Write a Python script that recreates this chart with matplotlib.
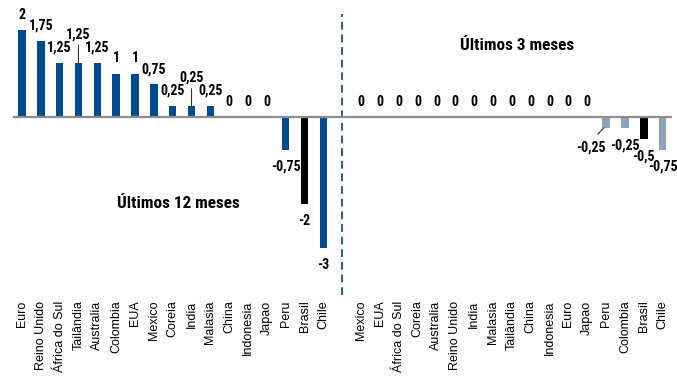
import matplotlib
matplotlib.use("Agg")
import matplotlib.pyplot as plt

# Movimento acumulado dos juros (p.p.) por pais
names_12m = ["Euro", "Reino Unido", "África do Sul", "Tailândia", "Australia", "Colombia",
             "EUA", "Mexico", "Coreia", "India", "Malasia", "China", "Indonesia", "Japao",
             "Peru", "Brasil", "Chile"]
vals_12m = [2, 1.75, 1.25, 1.25, 1.25, 1, 1, 0.75, 0.25, 0.25, 0.25, 0, 0, 0, -0.75, -2, -3]

names_3m = ["Mexico", "EUA", "África do Sul", "Coreia", "Australia", "Reino Unido", "India",
            "Malasia", "Tailândia", "China", "Indonesia", "Euro", "Japao", "Peru", "Colombia",
            "Brasil", "Chile"]
vals_3m = [0, 0, 0, 0, 0, 0, 0, 0, 0, 0, 0, 0, 0, -0.25, -0.25, -0.5, -0.75]

BLUE = "#004a8d"
LIGHT = "#8ba3bd"
BLACK = "#000000"

label_font = ["Roboto Condensed", "Liberation Sans", "DejaVu Sans"]


def fmt(v):
    return f"{v:g}".replace(".", ",")


def main():
    fig = plt.figure(figsize=(6.77, 3.88), dpi=100)
    ax = fig.add_axes([12.5 / 677, 1 - 295 / 388, 659.5 / 677, 281 / 388])

    n = len(names_12m)
    x_left = list(range(n))
    x_right = [n + 1 + i for i in range(len(names_3m))]

    colors_left = [BLACK if c == "Brasil" else BLUE for c in names_12m]
    colors_right = [BLACK if c == "Brasil" else (LIGHT if v != 0 else BLUE)
                    for c, v in zip(names_3m, vals_3m)]

    ax.bar(x_left, vals_12m, width=0.4, color=colors_left, zorder=2)
    ax.bar(x_right, vals_3m, width=0.4, color=colors_right, zorder=2)

    ax.axhline(0, color="#8c8c8c", lw=1.6, zorder=3)
    ax.axvline(n, color="#1f5fa8", lw=1.4, ls=(0, (4, 2.5)), zorder=1)

    # rotulos de valor
    raised = {("12m", "Tailândia"), ("12m", "India")}
    for tag, names, xs, vals in (("12m", names_12m, x_left, vals_12m),
                                 ("3m", names_3m, x_right, vals_3m)):
        for name, x, v in zip(names, xs, vals):
            kw = dict(ha="center", va="center", fontsize=10, fontweight="bold",
                      family=label_font, textcoords="offset points")
            if (tag, name) in raised:
                ax.annotate(fmt(v), xy=(x, v), xytext=(0, 20.5), **kw,
                            arrowprops=dict(arrowstyle="-", color="#333333", lw=0.8,
                                            shrinkA=1, shrinkB=0, relpos=(0.5, 0)))
            elif tag == "3m" and name == "Peru":
                ax.annotate(fmt(v), xy=(x - 0.12, v), xytext=(-9, -14.5), **kw,
                            arrowprops=dict(arrowstyle="-", color="#333333", lw=0.8,
                                            shrinkA=4, shrinkB=0, relpos=(0.5, 1)))
            elif v >= 0:
                ax.annotate(fmt(v), xy=(x, v), xytext=(0, 11), **kw)
            else:
                ax.annotate(fmt(v), xy=(x, v), xytext=(0, -12.5), **kw)

    ax.text(8.3, -2.0, "Últimos 12 meses", ha="center", va="center", fontsize=12.3,
            fontweight="bold", family=label_font)
    ax.text(26.3, 1.65, "Últimos 3 meses", ha="center", va="center", fontsize=12.3,
            fontweight="bold", family=label_font)

    ax.set_xlim(-0.5, x_right[-1] + 0.5)
    ax.set_ylim(-(295 - 117) / 43.5, (117 - 14) / 43.5)
    ax.set_xticks(x_left + x_right)
    ax.set_xticklabels(names_12m + names_3m, rotation=90, fontsize=9,
                       family=["Liberation Sans", "DejaVu Sans"])
    ax.tick_params(axis="x", length=0, pad=4)
    ax.set_yticks([])
    for s in ax.spines.values():
        s.set_visible(False)

    fig.savefig("out.png", dpi=100)
    plt.close(fig)


if __name__ == "__main__":
    main()
